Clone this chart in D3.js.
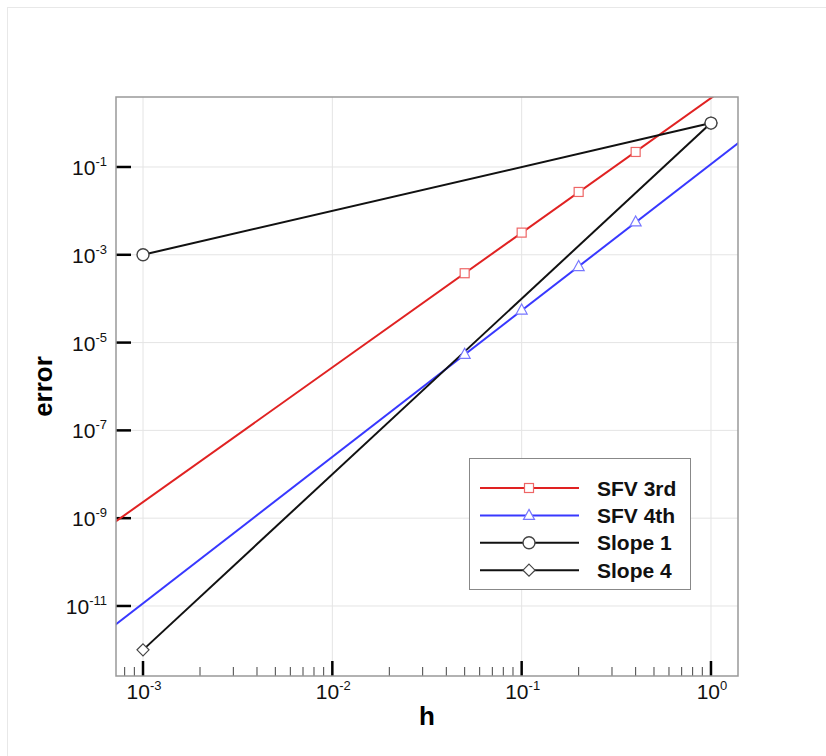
<!DOCTYPE html>
<html><head><meta charset="utf-8">
<script src="https://cdn.jsdelivr.net/npm/d3@7"></script>
<style>html,body{margin:0;padding:0;background:#fff;} svg{display:block;}</style>
</head><body>
<svg id="c" width="826" height="756"></svg>
<script>
// ---- data ----
const xLimits = [7.2e-4, 1.389];
const yLimits = [2.54e-13, 3.93];
const xMajorTicks = [1e-3, 1e-2, 1e-1, 1];
const xTickExp = ["-3", "-2", "-1", "0"];
const yMajorTicks = [1e-1, 1e-3, 1e-5, 1e-7, 1e-9, 1e-11];
const yTickExp = ["-1", "-3", "-5", "-7", "-9", "-11"];

const sfv3H = [0.05, 0.1, 0.2, 0.4];
const sfv3Err = [3.8e-4, 3.2e-3, 2.7e-2, 2.2e-1];
const sfv3LineH = [7e-4, 1.5];
const sfv3LineErr = [7.8e-10, 12.9];

const sfv4H = [0.05, 0.1, 0.2, 0.4];
const sfv4Err = [5.4e-6, 5.5e-5, 5.4e-4, 5.6e-3];
const sfv4LineH = [7e-4, 1.5];
const sfv4LineErr = [3.5e-12, 0.45];

const slope1H = [1e-3, 1];
const slope1Err = [1e-3, 1];
const slope4H = [1e-3, 1];
const slope4Err = [1e-12, 1];

const legendNames = ["SFV 3rd", "SFV 4th", "Slope 1", "Slope 4"];

// ---- layout ----
const L = 116, R = 738, T = 97, B = 676;
const svg = d3.select("#c");
const font = "'Liberation Sans', Arial, Helvetica, sans-serif";

svg.append("rect").attr("x", 7.5).attr("y", 7.5).attr("width", 830).attr("height", 760)
  .attr("fill", "#fff").attr("stroke", "#e8e8e8");

const x = d3.scaleLog().domain(xLimits).range([L, R]);
const y = d3.scaleLog().domain(yLimits).range([B, T]);

// grid
const g = svg.append("g");
g.selectAll(".gx").data(xMajorTicks).enter().append("line")
  .attr("x1", d => x(d)).attr("x2", d => x(d)).attr("y1", T).attr("y2", B)
  .attr("stroke", "#e4e4e4").attr("stroke-width", 1);
g.selectAll(".gy").data(yMajorTicks).enter().append("line")
  .attr("y1", d => y(d)).attr("y2", d => y(d)).attr("x1", L).attr("x2", R)
  .attr("stroke", "#e4e4e4").attr("stroke-width", 1);

// minor x ticks
const minor = [];
for (let e = -4; e <= 0; e++) for (let m = 2; m <= 9; m++) {
  const v = m * Math.pow(10, e);
  if (v > xLimits[0] && v < xLimits[1]) minor.push(v);
}
g.selectAll(".mx").data(minor).enter().append("line")
  .attr("x1", d => x(d)).attr("x2", d => x(d)).attr("y1", B).attr("y2", B - 9)
  .attr("stroke", "#444").attr("stroke-width", 1);
g.selectAll(".Mx").data(xMajorTicks).enter().append("line")
  .attr("x1", d => x(d)).attr("x2", d => x(d)).attr("y1", B).attr("y2", B - 15)
  .attr("stroke", "#000").attr("stroke-width", 2.5);
g.selectAll(".My").data(yMajorTicks).enter().append("line")
  .attr("y1", d => y(d)).attr("y2", d => y(d)).attr("x1", L).attr("x2", L + 15)
  .attr("stroke", "#000").attr("stroke-width", 2.5);

// tick labels
const xl = g.selectAll(".xl").data(xMajorTicks).enter().append("text")
  .attr("x", d => x(d) + 1).attr("y", 699).attr("text-anchor", "middle")
  .attr("font-family", font).attr("font-size", 21).attr("fill", "#111");
xl.append("tspan").text("10");
xl.append("tspan").attr("dy", -9).attr("font-size", 13).text((d, i) => xTickExp[i]);

const yl = g.selectAll(".yl").data(yMajorTicks).enter().append("text")
  .attr("x", 107).attr("y", d => y(d) + 8).attr("text-anchor", "end")
  .attr("font-family", font).attr("font-size", 21).attr("fill", "#111");
yl.append("tspan").text("10");
yl.append("tspan").attr("dy", -9).attr("font-size", 13).text((d, i) => yTickExp[i]);

// axis titles
svg.append("text").attr("x", (L + R) / 2).attr("y", 725).attr("text-anchor", "middle")
  .attr("font-family", font).attr("font-weight", "bold").attr("font-size", 26).text("h");
svg.append("text").attr("transform", `translate(52,${(T + B) / 2}) rotate(-90)`)
  .attr("text-anchor", "middle").attr("font-family", font).attr("font-weight", "bold")
  .attr("font-size", 26).text("error");

// clip
svg.append("clipPath").attr("id", "pc").append("rect")
  .attr("x", L).attr("y", T).attr("width", R - L).attr("height", B - T);
const plot = svg.append("g").attr("clip-path", "url(#pc)");

const line = d3.line().x(d => x(d[0])).y(d => y(d[1]));
const zip = (a, b) => a.map((v, i) => [v, b[i]]);

const series = [
  { lh: sfv3LineH, le: sfv3LineErr, mh: sfv3H, me: sfv3Err, color: "#e02222", mk: "square", mstroke: "#e66", mfill: "#fff" },
  { lh: sfv4LineH, le: sfv4LineErr, mh: sfv4H, me: sfv4Err, color: "#3838ff", mk: "triangle", mstroke: "#7777ff", mfill: "#fff" },
  { lh: slope4H, le: slope4Err, mh: slope4H, me: slope4Err, color: "#111", mk: "diamond", mstroke: "#444", mfill: "#fff" },
  { lh: slope1H, le: slope1Err, mh: slope1H, me: slope1Err, color: "#111", mk: "circle", mstroke: "#444", mfill: "#fff" }
];

function marker(sel, type, stroke, fill) {
  if (type === "square") {
    sel.append("rect").attr("x", -4.5).attr("y", -4.5).attr("width", 9).attr("height", 9)
      .attr("fill", fill).attr("stroke", stroke).attr("stroke-width", 1.2);
  } else if (type === "triangle") {
    sel.append("path").attr("d", "M0,-6 L5.5,4 L-5.5,4 Z")
      .attr("fill", fill).attr("stroke", stroke).attr("stroke-width", 1.2);
  } else if (type === "diamond") {
    sel.append("path").attr("d", "M0,-6 L6,0 L0,6 L-6,0 Z")
      .attr("fill", fill).attr("stroke", stroke).attr("stroke-width", 1.2);
  } else {
    sel.append("circle").attr("r", 6).attr("fill", fill).attr("stroke", stroke).attr("stroke-width", 1.4);
  }
}

series.forEach(s => {
  plot.append("path").datum(zip(s.lh, s.le)).attr("d", line)
    .attr("fill", "none").attr("stroke", s.color).attr("stroke-width", 2);
});
series.forEach(s => {
  zip(s.mh, s.me).forEach(p => {
    const m = svg.append("g").attr("transform", `translate(${x(p[0])},${y(p[1])})`);
    marker(m, s.mk, s.mstroke, s.mfill);
  });
});

// frame
svg.append("rect").attr("x", L).attr("y", T).attr("width", R - L).attr("height", B - T)
  .attr("fill", "none").attr("stroke", "#999").attr("stroke-width", 1.5);

// legend
const lg = svg.append("g");
lg.append("rect").attr("x", 469.5).attr("y", 458.5).attr("width", 221).attr("height", 131)
  .attr("fill", "#fff").attr("stroke", "#888").attr("stroke-width", 1);
const legOrder = [series[0], series[1], series[3], series[2]];
legOrder.forEach((s, i) => {
  const yy = 488 + i * 27.4;
  lg.append("line").attr("x1", 480).attr("x2", 579).attr("y1", yy).attr("y2", yy)
    .attr("stroke", s.color).attr("stroke-width", 2);
  const m = lg.append("g").attr("transform", `translate(529,${yy})`);
  marker(m, s.mk, s.mstroke, s.mfill);
  lg.append("text").attr("x", 597).attr("y", yy + 7.5).attr("font-family", font)
    .attr("font-weight", "bold").attr("font-size", 21).attr("fill", "#111").text(legendNames[i]);
});
</script>
</body></html>
